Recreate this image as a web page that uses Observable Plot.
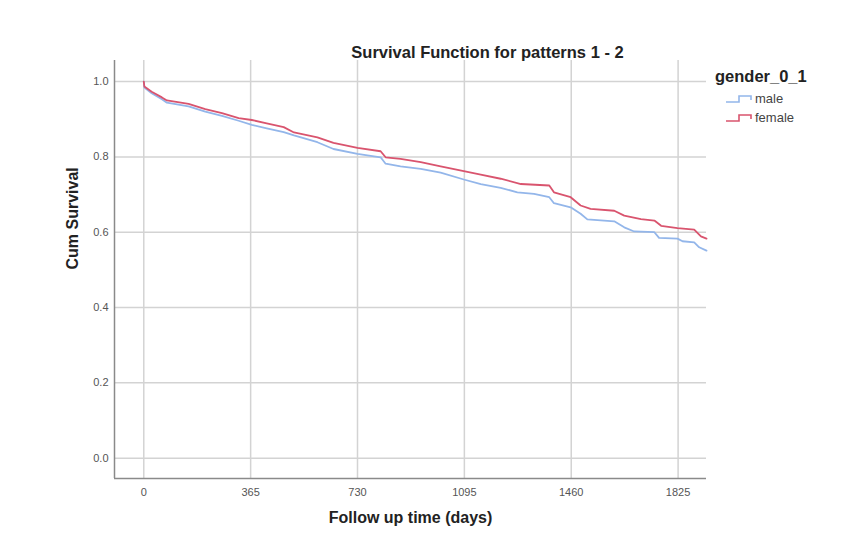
<!DOCTYPE html>
<html><head><meta charset="utf-8">
<script src="https://cdn.jsdelivr.net/npm/d3@7"></script>
<script src="https://cdn.jsdelivr.net/npm/@observablehq/plot@0.6"></script>
<style>
body{margin:0;background:#fff;font-family:"Liberation Sans",Arial,sans-serif;}
#wrap{position:relative;width:864px;height:556px;}
#legend{position:absolute;left:715px;top:66px;color:#222;}
#legend .lt{font-weight:bold;font-size:16.5px;line-height:20px;margin-bottom:3px;}
#legend .it{display:flex;align-items:center;height:19px;font-size:13px;color:#444;margin-left:11px;}
#legend svg{margin-right:2px;}
</style></head><body>
<div id="wrap"><div id="chart"></div><div id="legend"></div></div>
<script>
const titleText = "Survival Function for patterns 1 - 2";
const xLabel = "Follow up time (days)";
const yLabel = "Cum Survival";
const legendTitle = "gender_0_1";
const xTicks = [0, 365, 730, 1095, 1460, 1825];
const yTicks = [0, 0.2, 0.4, 0.6, 0.8, 1.0];
const seriesNames = ["male", "female"];
const seriesColors = ["#93b6ea", "#d9546e"];

const maleDays = [0, 2, 27, 62, 79, 153, 210, 267, 324, 369, 420, 478, 513, 593, 648, 730, 809, 826, 877, 946, 1014, 1093, 1151, 1219, 1276, 1333, 1385, 1401, 1458, 1492, 1515, 1607, 1641, 1675, 1744, 1760, 1823, 1840, 1880, 1897, 1922];
const maleSurv = [1.0, 0.984, 0.969, 0.953, 0.944, 0.934, 0.920, 0.909, 0.896, 0.885, 0.876, 0.866, 0.857, 0.839, 0.821, 0.808, 0.799, 0.782, 0.775, 0.768, 0.758, 0.740, 0.728, 0.718, 0.706, 0.702, 0.693, 0.677, 0.666, 0.649, 0.634, 0.629, 0.613, 0.602, 0.600, 0.585, 0.583, 0.576, 0.573, 0.560, 0.551];

const femaleDays = [0, 2, 27, 62, 79, 153, 210, 267, 324, 369, 420, 478, 513, 593, 648, 730, 809, 826, 877, 946, 1014, 1093, 1151, 1219, 1288, 1385, 1401, 1458, 1492, 1526, 1607, 1641, 1698, 1744, 1767, 1823, 1880, 1903, 1922];
const femaleSurv = [1.0, 0.987, 0.973, 0.958, 0.950, 0.941, 0.927, 0.916, 0.903, 0.898, 0.889, 0.879, 0.865, 0.852, 0.837, 0.824, 0.815, 0.799, 0.795, 0.786, 0.775, 0.762, 0.753, 0.742, 0.728, 0.724, 0.706, 0.693, 0.671, 0.662, 0.657, 0.644, 0.635, 0.631, 0.617, 0.611, 0.607, 0.589, 0.583];

const data = [
  ...maleDays.map((d, i) => ({day: d, surv: maleSurv[i], g: "male"})),
  ...femaleDays.map((d, i) => ({day: d, surv: femaleSurv[i], g: "female"}))
];

const xDomain = [-100, 1922];
const yDomain = [-0.054, 1.056];
const font = "Liberation Sans, Arial, sans-serif";

const chart = Plot.plot({
  width: 864, height: 556,
  marginLeft: 114, marginRight: 158, marginTop: 60, marginBottom: 78,
  x: {domain: xDomain, label: null},
  y: {domain: yDomain, label: null},
  color: {domain: seriesNames, range: seriesColors},
  style: {fontFamily: font, background: "white"},
  marks: [
    Plot.gridX(xTicks, {stroke: "#d3d3d3", strokeOpacity: 1, strokeWidth: 1.5}),
    Plot.gridY(yTicks, {stroke: "#d3d3d3", strokeOpacity: 1, strokeWidth: 1.5}),
    Plot.ruleX([xDomain[0]], {stroke: "#8a8a8a", strokeWidth: 1.5}),
    Plot.ruleY([yDomain[0]], {stroke: "#8a8a8a", strokeWidth: 1.5}),
    Plot.axisX(xTicks, {tickSize: 0, tickPadding: 10, fontSize: 11, fill: "#555", tickFormat: "d", label: null}),
    Plot.axisY(yTicks, {tickSize: 0, tickPadding: 6, fontSize: 11, fill: "#555", tickFormat: ".1f", label: null}),
    Plot.line(data, {x: "day", y: "surv", stroke: "g", z: "g", curve: "linear", strokeWidth: 1.8}),
    Plot.text([titleText], {frameAnchor: "top", dx: 77, dy: -14, fontSize: 16.5, fontWeight: "bold", fill: "#222"}),
    Plot.text([xLabel], {frameAnchor: "bottom", dy: 44, fontSize: 16, fontWeight: "bold", fill: "#222"}),
    Plot.text([yLabel], {frameAnchor: "left", dx: -42, rotate: -90, fontSize: 16, fontWeight: "bold", fill: "#222"})
  ]
});
document.getElementById("chart").appendChild(chart);

const legend = document.getElementById("legend");
const lt = document.createElement("div");
lt.className = "lt";
lt.textContent = legendTitle;
legend.appendChild(lt);
seriesNames.forEach((name, i) => {
  const it = document.createElement("div");
  it.className = "it";
  it.innerHTML = `<svg width="27" height="12"><path d="M0,9 H13 V3 H25 V7" fill="none" stroke="${seriesColors[i]}" stroke-width="1.6"/></svg><span>${name}</span>`;
  legend.appendChild(it);
});
</script>
</body></html>
